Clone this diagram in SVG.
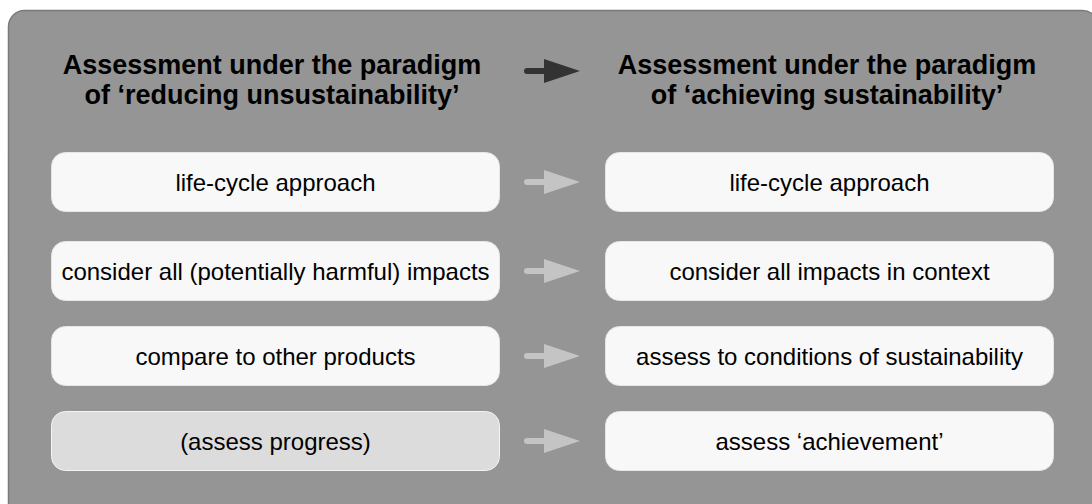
<svg xmlns="http://www.w3.org/2000/svg" width="1092" height="504" viewBox="0 0 1092 504">
<defs>
<style>
.box{fill:#f8f8f8;stroke:#e6e6e6;stroke-width:1}
.boxg{fill:#dcdcdc;stroke:#f4f4f4;stroke-width:1}
.t{font-family:"Liberation Sans",Arial,sans-serif;font-size:24px;fill:#000;text-anchor:middle}
.h{font-family:"Liberation Sans",Arial,sans-serif;font-size:27px;font-weight:bold;fill:#000;text-anchor:middle}
.shaft{stroke-width:6;stroke-linecap:round;fill:none}
</style>
</defs>
<rect x="8.5" y="10.5" width="1090" height="520" rx="16" fill="#959595" stroke="#7a7a7a" stroke-width="1.5"/>
<g id="header-left">
<text class="h" x="272" y="74">Assessment under the paradigm</text>
<text class="h" x="272" y="104">of ‘reducing unsustainability’</text>
</g>
<g id="header-right">
<text class="h" x="827" y="74">Assessment under the paradigm</text>
<text class="h" x="827" y="104">of ‘achieving sustainability’</text>
</g>
<g id="l1"><rect class="box" x="51.5" y="152.5" width="448" height="59" rx="14"/><text class="t" x="275.5" y="191">life-cycle approach</text></g>
<g id="l2"><rect class="box" x="51.5" y="241.5" width="448" height="59" rx="14"/><text class="t" x="275.5" y="280">consider all (potentially harmful) impacts</text></g>
<g id="l3"><rect class="box" x="51.5" y="326.5" width="448" height="59" rx="14"/><text class="t" x="275.5" y="365">compare to other products</text></g>
<g id="l4"><rect class="boxg" x="51.5" y="411.5" width="448" height="59" rx="14"/><text class="t" x="275.5" y="450">(assess progress)</text></g>
<g id="r1"><rect class="box" x="605.5" y="152.5" width="448" height="59" rx="14"/><text class="t" x="829.5" y="191">life-cycle approach</text></g>
<g id="r2"><rect class="box" x="605.5" y="241.5" width="448" height="59" rx="14"/><text class="t" x="829.5" y="280">consider all impacts in context</text></g>
<g id="r3"><rect class="box" x="605.5" y="326.5" width="448" height="59" rx="14"/><text class="t" x="829.5" y="365">assess to conditions of sustainability</text></g>
<g id="r4"><rect class="box" x="605.5" y="411.5" width="448" height="59" rx="14"/><text class="t" x="829.5" y="450">assess ‘achievement’</text></g>
<g id="connectors">
<line class="shaft" x1="527" y1="71" x2="548" y2="71" stroke="#333"/>
<polygon points="544,59 580,71 544,83" fill="#333"/>
<g fill="#c4c4c4" stroke="#c4c4c4">
<line class="shaft" x1="527" y1="182" x2="548" y2="182"/>
<polygon points="544,170 580,182 544,194" stroke="none"/>
<line class="shaft" x1="527" y1="271" x2="548" y2="271"/>
<polygon points="544,259 580,271 544,283" stroke="none"/>
<line class="shaft" x1="527" y1="356" x2="548" y2="356"/>
<polygon points="544,344 580,356 544,368" stroke="none"/>
<line class="shaft" x1="527" y1="441" x2="548" y2="441"/>
<polygon points="544,429 580,441 544,453" stroke="none"/>
</g>
</g>
</svg>
